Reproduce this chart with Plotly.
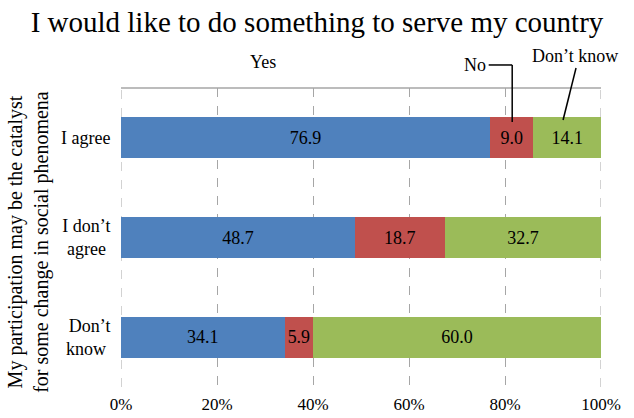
import plotly.graph_objects as go

categories = ["I agree", "I don’t agree", "Don’t know"]
category_ticks = ["I agree", "I don’t<br>agree\u00a0", "Don’t<br>know\u00a0"]
series_names = ["Yes", "No", "Don’t know"]
yes_vals = [76.9, 48.7, 34.1]
no_vals = [9.0, 18.7, 5.9]
dk_vals = [14.1, 32.7, 60.0]
tick_vals = [0, 20, 40, 60, 80, 100]
tick_text = ["0%", "20%", "40%", "60%", "80%", "100%"]
colors = ["#4F81BD", "#C0504D", "#9BBB59"]

FONT = "Liberation Serif"
GRID = "#A6A6A6"

fig = go.Figure()
for name, vals, col in zip(series_names, [yes_vals, no_vals, dk_vals], colors):
    fig.add_trace(go.Bar(
        y=categories, x=vals, name=name, orientation="h",
        marker=dict(color=col, line=dict(width=0)),
        text=[f"{v:.1f}" for v in vals], textposition="inside",
        insidetextanchor="middle", textangle=0,
        textfont=dict(family=FONT, size=18, color="black"),
        showlegend=False,
    ))

fig.update_layout(
    barmode="stack", bargap=0.59,
    width=634, height=418,
    margin=dict(l=121, r=33, t=88, b=31, autoexpand=False),
    paper_bgcolor="white", plot_bgcolor="white",
    font=dict(family=FONT, size=18, color="black"),
    title=dict(text="I would like to do something to serve my country",
               x=0.5, xanchor="center", y=0.948, yanchor="middle",
               font=dict(family=FONT, size=29, color="black")),
    xaxis=dict(range=[0, 100], tickvals=tick_vals, ticktext=tick_text,
               showgrid=True, gridcolor=GRID, griddash="dash", gridwidth=1,
               zeroline=False, showline=False, ticks="outside", ticklen=2,
               automargin=False,
               tickcolor="rgba(0,0,0,0)", tickfont=dict(family=FONT, size=17, color="black")),
    yaxis=dict(categoryorder="array", categoryarray=categories,
               tickmode="array", tickvals=categories, ticktext=category_ticks,
               autorange="reversed", showgrid=False, zeroline=False,
               showline=False, ticks="outside", ticklen=6, automargin=False,
               tickcolor="rgba(0,0,0,0)", tickfont=dict(family=FONT, size=18, color="black")),
)

# edge gridlines at 0% and 100%
for xv in (0, 100):
    fig.add_shape(type="line", xref="x", yref="paper", x0=xv, x1=xv, y0=0, y1=1,
                  line=dict(color=GRID, width=1, dash="dash"), layer="below")

# top border
fig.add_shape(type="line", xref="paper", yref="paper", x0=0, x1=1, y0=1, y1=1,
              line=dict(color=GRID, width=1.5))

# leader lines for series labels
fig.add_shape(type="line", xref="x", yref="paper", x0=76.6, x1=81.5, y0=1.077, y1=1.077,
              line=dict(color="black", width=1.5))
fig.add_shape(type="line", xref="x", yref="paper", x0=81.5, x1=81.5, y0=1.077, y1=0.886,
              line=dict(color="black", width=1.5))
fig.add_shape(type="line", xref="x", yref="paper", x0=94.8, x1=92.1, y0=1.067, y1=0.893,
              line=dict(color="black", width=1.5))

fig.add_annotation(text="Yes", xref="paper", yref="paper", x=0.296, y=1.087,
                   showarrow=False, font=dict(family=FONT, size=18), xanchor="center", yanchor="middle")
fig.add_annotation(text="No", xref="paper", yref="paper", x=0.765, y=1.077,
                   showarrow=False, font=dict(family=FONT, size=18), xanchor="right", yanchor="middle")
fig.add_annotation(text="Don’t know", xref="paper", yref="paper", x=0.946, y=1.107,
                   showarrow=False, font=dict(family=FONT, size=18), xanchor="center", yanchor="middle")

# y-axis title
fig.add_annotation(text="My participation may be the catalyst<br>for some change in social phenomena",
                   xref="paper", yref="paper", x=-0.192, y=0.485, textangle=-90,
                   showarrow=False, font=dict(family=FONT, size=20), xanchor="center", yanchor="middle")

fig.write_html("out.html", config={"displayModeBar": False},
               post_script="document.body.style.margin='0';")
